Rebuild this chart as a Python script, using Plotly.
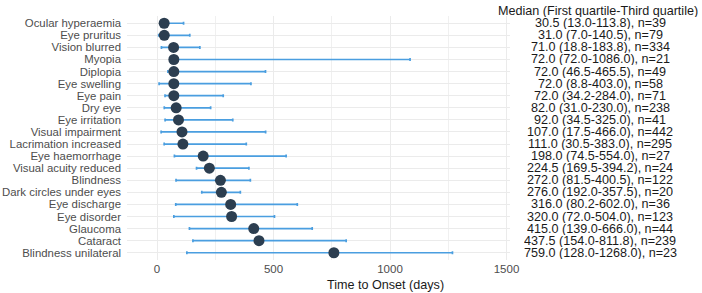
import plotly.graph_objects as go

events = ["Ocular hyperaemia", "Eye pruritus", "Vision blurred", "Myopia", "Diplopia",
          "Eye swelling", "Eye pain", "Dry eye", "Eye irritation", "Visual impairment",
          "Lacrimation increased", "Eye haemorrhage", "Visual acuity reduced", "Blindness",
          "Dark circles under eyes", "Eye discharge", "Eye disorder", "Glaucoma", "Cataract",
          "Blindness unilateral"]
medians = [30.5, 31.0, 71.0, 72.0, 72.0, 72.0, 72.0, 82.0, 92.0, 107.0, 111.0, 198.0,
           224.5, 272.0, 276.0, 316.0, 320.0, 415.0, 437.5, 759.0]
q1 = [13.0, 7.0, 18.8, 72.0, 46.5, 8.8, 34.2, 31.0, 34.5, 17.5, 30.5, 74.5, 169.5, 81.5,
      192.0, 80.2, 72.0, 139.0, 154.0, 128.0]
q3 = [113.8, 140.5, 183.8, 1086.0, 465.5, 403.0, 284.0, 230.0, 325.0, 466.0, 383.0, 554.0,
      394.2, 400.5, 357.5, 602.0, 504.0, 666.0, 811.8, 1268.0]
counts = [39, 79, 334, 21, 49, 58, 71, 238, 41, 442, 295, 27, 24, 122, 20, 36, 123, 44, 239, 23]
x_ticks = [0, 500, 1000, 1500]
x_minor = [250, 750, 1250]

W, H = 702, 293
L, R, T, B = 127, 192, 16, 33
pw = W - L - R
ph = H - T - B

fig = go.Figure()
fig.add_trace(go.Scatter(
    x=medians, y=events, mode="markers",
    marker=dict(color="#2c3e50", size=11),
    error_x=dict(type="data", symmetric=False,
                 array=[b - m for b, m in zip(q3, medians)],
                 arrayminus=[m - a for m, a in zip(medians, q1)],
                 color="#4a9ee0", thickness=1.7, width=1.5),
    showlegend=False, hoverinfo="skip"))

for ev, m, a, b, n in zip(events, medians, q1, q3, counts):
    fig.add_annotation(x=(600 - L) / pw, xref="paper", y=ev, yref="y",
                       text=f"{m:.1f} ({a:.1f}-{b:.1f}), n={n}", showarrow=False,
                       xanchor="center", yanchor="middle", height=12, borderpad=0,
                       font=dict(size=12.6, color="#1a1a1a"))
fig.add_annotation(x=(598 - L) / pw, xref="paper", y=(H - B - 11) / ph, yref="paper",
                   text="Median (First quartile-Third quartile)", showarrow=False,
                   xanchor="center", yanchor="middle", height=12, borderpad=0,
                   font=dict(size=12.6, color="#1a1a1a"))
fig.add_annotation(x=(385 - L) / pw, xref="paper", y=-(285 - (H - B)) / ph, yref="paper",
                   text="Time to Onset (days)", showarrow=False,
                   xanchor="center", yanchor="middle", font=dict(size=12.6, color="#1a1a1a"))

fig.update_layout(
    width=W, height=H, margin=dict(l=L, r=R, t=T, b=B),
    paper_bgcolor="white", plot_bgcolor="white",
    font=dict(family="Liberation Sans, Arial, sans-serif"),
    xaxis=dict(range=[-129, 1515], tickmode="array", tickvals=x_ticks, showgrid=True,
               gridcolor="#ebebeb", gridwidth=1, zeroline=False, showline=False, ticks="",
               automargin=False, tickfont=dict(size=11.5, color="#4d4d4d"),
               minor=dict(tickvals=x_minor, showgrid=True, gridcolor="#f0f0f0", gridwidth=1)),
    yaxis=dict(categoryorder="array", categoryarray=events, tickmode="array", tickvals=events,
               range=[len(events) - 0.4, -0.6], automargin=False,
               showgrid=True, gridcolor="#ebebeb", gridwidth=1, zeroline=False, showline=False,
               ticks="", ticklabelstandoff=5, tickfont=dict(size=11.4, color="#4d4d4d")),
)

fig.write_html("out.html")
